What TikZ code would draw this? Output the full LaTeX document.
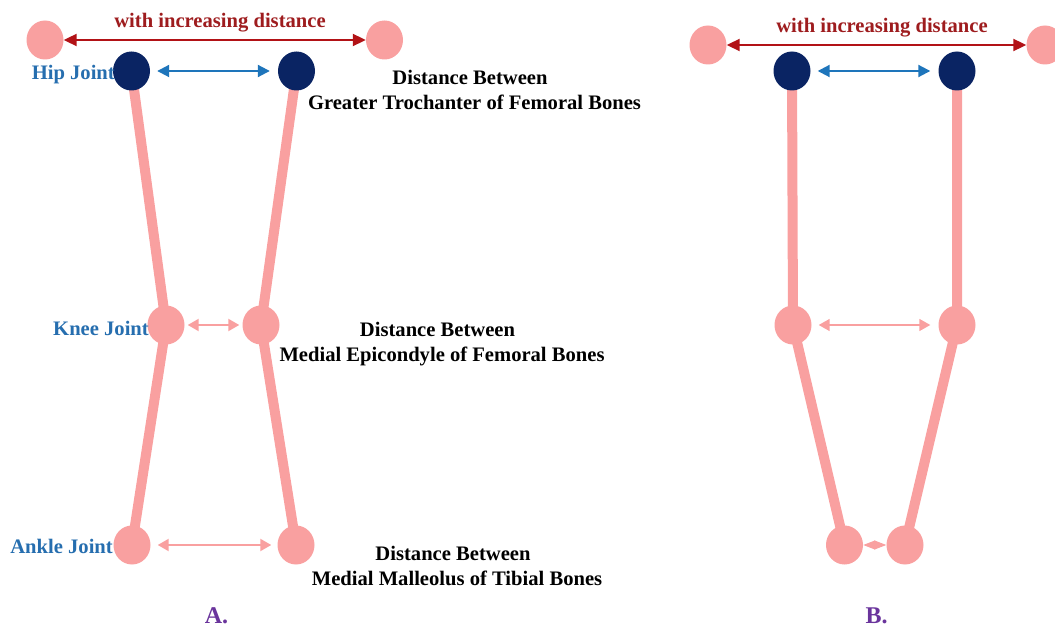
\documentclass[tikz,border=0pt]{standalone}
\usepackage{fontspec}
\setmainfont{Liberation Serif}
\usetikzlibrary{arrows.meta,shapes.geometric,backgrounds}
\definecolor{jointpink}{RGB}{249,160,160}
\definecolor{hipnavy}{RGB}{10,36,99}
\definecolor{arrowred}{RGB}{178,18,22}
\definecolor{arrowblue}{RGB}{30,117,187}
\definecolor{labelblue}{RGB}{38,110,175}
\definecolor{titlered}{RGB}{158,28,30}
\definecolor{panelpurple}{RGB}{106,52,156}
\tikzset{
  joint/.style={ellipse, fill=jointpink, minimum width=37pt, minimum height=39pt, inner sep=0pt},
  hipjoint/.style={joint, fill=hipnavy},
  bone/.style={draw=jointpink, line width=10pt},
  redarr/.style={draw=arrowred, line width=2pt, {Triangle[length=13pt,width=12pt]}-{Triangle[length=13pt,width=12pt]}},
  bluearr/.style={draw=arrowblue, line width=2pt, {Triangle[length=12pt,width=12pt]}-{Triangle[length=12pt,width=12pt]}},
  pinkarr/.style={draw=jointpink, line width=2pt, {Triangle[length=11pt,width=12pt]}-{Triangle[length=11pt,width=12pt]}},
  lbl/.style={font=\fontsize{20.6}{24}\selectfont\bfseries, inner sep=0pt},
  jointlbl/.style={lbl, text=labelblue, anchor=base east},
  desclbl/.style={lbl, text=black, anchor=base},
  toplbl/.style={lbl, text=titlered, anchor=base},
  panellbl/.style={lbl, text=panelpurple, anchor=base, font=\fontsize{24}{28}\selectfont\bfseries},
}
\begin{document}
\begin{tikzpicture}[x=1pt,y=-1pt]
\useasboundingbox (0,0) rectangle (1055,628);
% ---------- Panel A ----------
\node[joint] (tA1) at (45,40) {};
\node[joint] (tA2) at (384.5,40) {};
\node[hipjoint] (hA1) at (131.5,71) {};
\node[hipjoint] (hA2) at (296.5,71) {};
\node[joint] (kA1) at (166,325) {};
\node[joint] (kA2) at (261,325) {};
\node[joint] (aA1) at (132,545) {};
\node[joint] (aA2) at (296,545) {};
\begin{pgfonlayer}{background}
\draw[bone] (hA1.center) -- (kA1.center) -- (aA1.center);
\draw[bone] (hA2.center) -- (kA2.center) -- (aA2.center);
\end{pgfonlayer}
\draw[redarr] (tA1) -- (tA2);
\draw[bluearr, shorten <=7pt, shorten >=8pt] (hA1) -- (hA2);
\draw[pinkarr, shorten <=3pt, shorten >=3pt] (kA1) -- (kA2);
\draw[pinkarr, shorten <=7pt, shorten >=6pt] (aA1) -- (aA2);
\node[toplbl] (incA) at (220,28) {with increasing distance};
\node[jointlbl] (hipL) at (115,80) {Hip Joint};
\node[jointlbl] (kneeL) at (149,335) {Knee Joint};
\node[jointlbl] (ankleL) at (113,553) {Ankle Joint};
\node[desclbl] (d1a) at (470,85) {Distance Between};
\node[desclbl] (d1b) at (474.5,110) {Greater Trochanter of Femoral Bones};
\node[desclbl] (d2a) at (437.5,337) {Distance Between};
\node[desclbl] (d2b) at (442,362) {Medial Epicondyle of Femoral Bones};
\node[desclbl] (d3a) at (453,560) {Distance Between};
\node[desclbl] (d3b) at (457,585) {Medial Malleolus of Tibial Bones};
\node[panellbl] (pA) at (216.5,623) {A.};
% ---------- Panel B ----------
\node[joint] (tB1) at (708,45) {};
\node[joint] (tB2) at (1045,45) {};
\node[hipjoint] (hB1) at (792,71) {};
\node[hipjoint] (hB2) at (957,71) {};
\node[joint] (kB1) at (793,325) {};
\node[joint] (kB2) at (957,325) {};
\node[joint] (aB1) at (844.5,545) {};
\node[joint] (aB2) at (905,545) {};
\begin{pgfonlayer}{background}
\draw[bone] (hB1.center) -- (kB1.center) -- (aB1.center);
\draw[bone] (hB2.center) -- (kB2.center) -- (aB2.center);
\end{pgfonlayer}
\draw[redarr] (tB1) -- (tB2);
\draw[bluearr, shorten <=7pt, shorten >=8pt] (hB1) -- (hB2);
\draw[pinkarr, line width=1.5pt, shorten <=7pt, shorten >=8pt] (kB1) -- (kB2);
\draw[draw=jointpink, line width=1pt, {Triangle[length=12pt,width=9pt]}-{Triangle[length=12pt,width=9pt]}] (aB1) -- (aB2);
\node[toplbl] (incB) at (882,33) {with increasing distance};
\node[panellbl] (pB) at (876.5,623) {B.};
\end{tikzpicture}
\end{document}
